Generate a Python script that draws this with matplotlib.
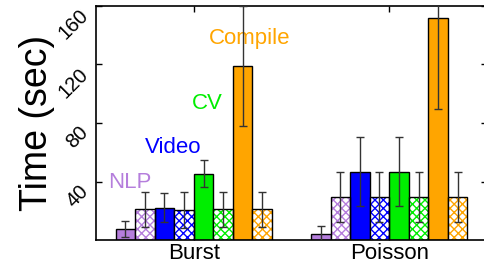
import matplotlib
matplotlib.use('Agg')
import matplotlib.pyplot as plt
import numpy as np

plt.rcParams['font.family'] = ['Liberation Sans', 'DejaVu Sans']
plt.rcParams['hatch.linewidth'] = 1.0

groups = ['Burst', 'Poisson']
apps = ['NLP', 'Video', 'CV', 'Compile']
colors = ['#b57edc', '#0000ff', '#00ee00', '#ffa500']

# per group: solid/hatched pairs for NLP, Video, CV, Compile
burst_vals = [7.5, 21, 22, 20.5, 45.3, 21, 119, 21]
burst_err = [5.3, 12, 10, 12, 9.2, 12, 41, 12]
poisson_vals = [4.3, 29.2, 46.7, 29.2, 46.7, 29.2, 151.6, 29.2]
poisson_err = [5, 17, 23.5, 17, 23.5, 17, 62, 17]

label_pos = [(-0.325, 39), (-0.105, 63), (0.07, 93), (0.285, 138)]

fig = plt.figure(figsize=(4.84, 2.67), dpi=100)
ax = fig.add_axes([96 / 484, 1 - 240 / 267, 391 / 484, 234 / 267])

width = 0.1
for g, (vals, errs) in enumerate([(burst_vals, burst_err), (poisson_vals, poisson_err)]):
    for i in range(8):
        x = g + (i - 3.5) * width
        c = colors[i // 2]
        if i % 2 == 0:
            ax.bar(x, vals[i], width, color=c, edgecolor='black', linewidth=1, zorder=2)
        else:
            ax.bar(x, vals[i], width, color='white', edgecolor=c, hatch='xxxx', linewidth=0, zorder=2)
            ax.bar(x, vals[i], width, fill=False, edgecolor='black', linewidth=1, zorder=3)
        ax.errorbar(x, vals[i], yerr=errs[i], fmt='none', ecolor='#333333',
                    elinewidth=1, capsize=3, capthick=1, zorder=4)

for name, c, (tx, ty) in zip(apps, colors, label_pos):
    ax.text(tx, ty, name, color=c, fontsize=16, ha='center', va='center')

ax.set_xlim(-0.5, 1.5)
ax.set_ylim(0, 160)
ax.set_xticks([0, 1])
ax.set_xticklabels(groups, fontsize=16)
ax.set_yticks([40, 80, 120, 160])
ax.set_yticklabels(['40', '80', '120', '160'], fontsize=14.5, rotation=45,
                   ha='right', va='top')
ax.tick_params(direction='in', length=4, top=True, right=True, width=1)
ax.tick_params(axis='x', pad=2)
ax.tick_params(axis='y', pad=3)
ax.set_ylabel('Time (sec)', fontsize=27, labelpad=0)
for s in ax.spines.values():
    s.set_linewidth(1.2)

fig.savefig('out.png', dpi=100)
